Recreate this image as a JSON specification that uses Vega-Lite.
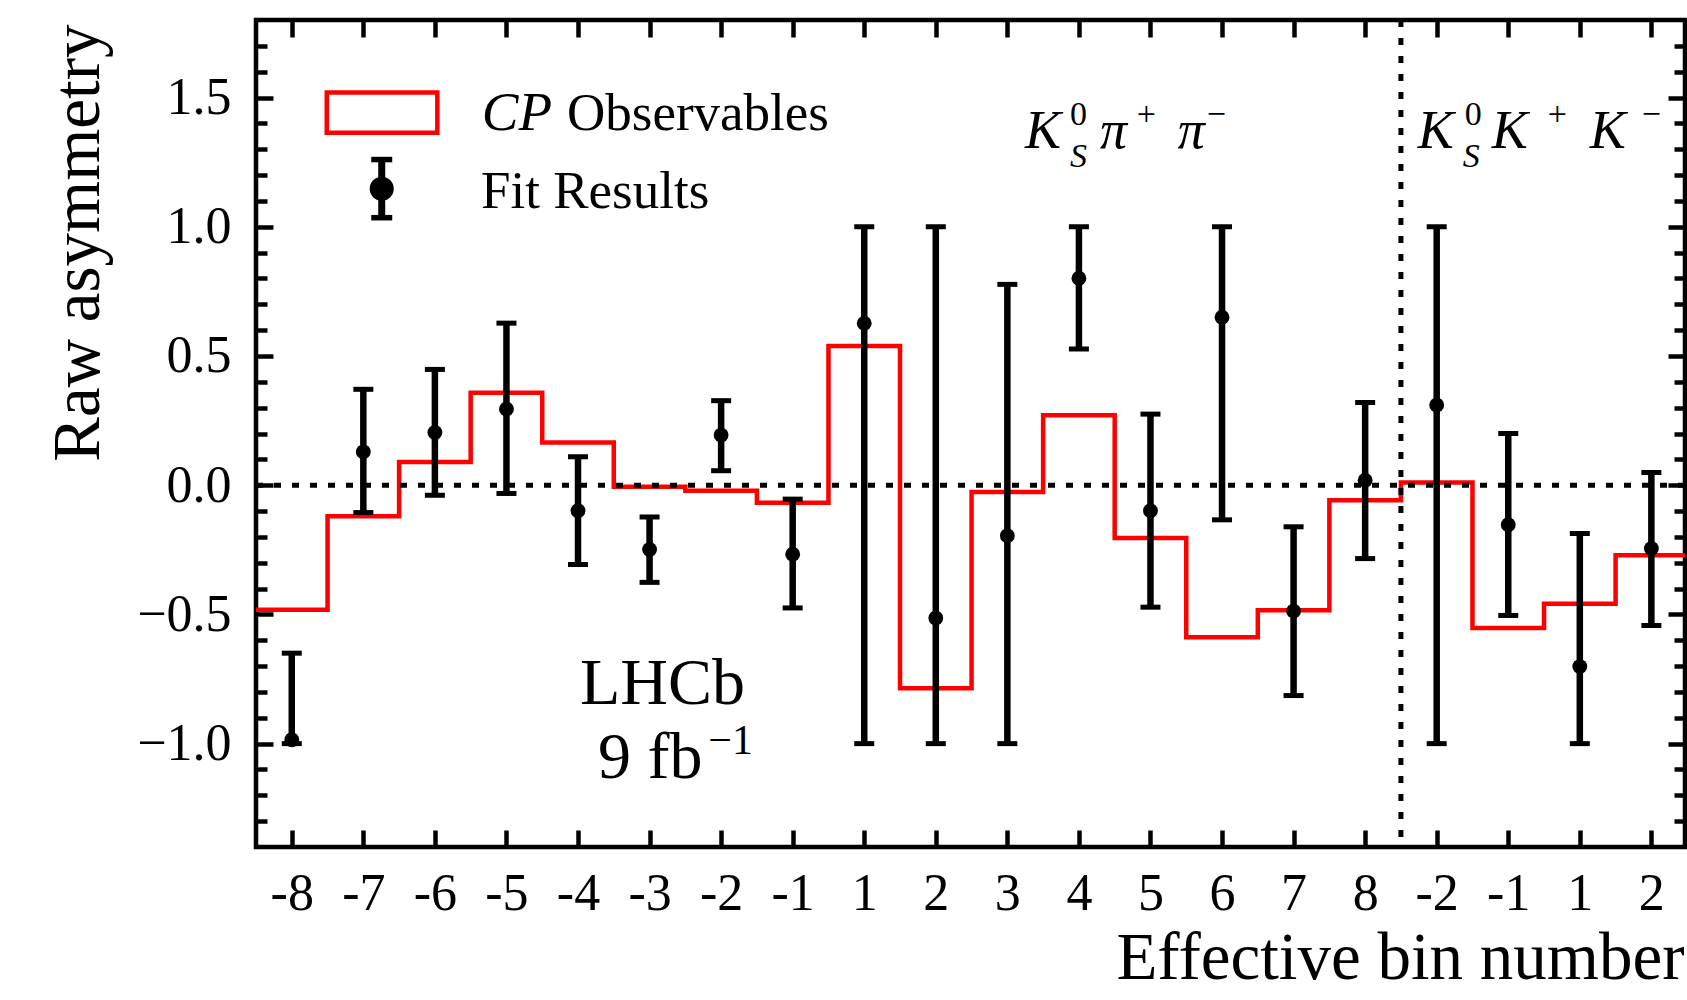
{
  "$schema": "https://vega.github.io/schema/vega-lite/v6.json",
  "width": 1429,
  "height": 827,
  "autosize": {"type": "none"},
  "padding": {"left": 256, "top": 20, "right": 2, "bottom": 153},
  "background": "white",
  "config": {
    "view": {"stroke": "black", "strokeWidth": 4.5},
    "font": "Liberation Serif",
    "axis": {"domain": false, "grid": false, "tickColor": "black", "tickWidth": 4.5, "labelColor": "black", "titleColor": "black", "labelFont": "Liberation Serif", "titleFont": "Liberation Serif", "titleFontWeight": "normal", "labelFlush": false, "labelOverlap": false}
  },
  "datasets": {
    "bins": [
      {"bin": "-8", "mode": "KS pi pi", "pos": 0, "fit": -0.985, "lo": -1.0, "hi": -0.65},
      {"bin": "-7", "mode": "KS pi pi", "pos": 1, "fit": 0.129, "lo": -0.106, "hi": 0.371},
      {"bin": "-6", "mode": "KS pi pi", "pos": 2, "fit": 0.204, "lo": -0.039, "hi": 0.448},
      {"bin": "-5", "mode": "KS pi pi", "pos": 3, "fit": 0.295, "lo": -0.032, "hi": 0.627},
      {"bin": "-4", "mode": "KS pi pi", "pos": 4, "fit": -0.099, "lo": -0.307, "hi": 0.11},
      {"bin": "-3", "mode": "KS pi pi", "pos": 5, "fit": -0.249, "lo": -0.376, "hi": -0.123},
      {"bin": "-2", "mode": "KS pi pi", "pos": 6, "fit": 0.194, "lo": 0.056, "hi": 0.327},
      {"bin": "-1", "mode": "KS pi pi", "pos": 7, "fit": -0.267, "lo": -0.475, "hi": -0.054},
      {"bin": "1", "mode": "KS pi pi", "pos": 8, "fit": 0.627, "lo": -1.0, "hi": 1.0},
      {"bin": "2", "mode": "KS pi pi", "pos": 9, "fit": -0.514, "lo": -1.0, "hi": 1.0},
      {"bin": "3", "mode": "KS pi pi", "pos": 10, "fit": -0.196, "lo": -1.0, "hi": 0.777},
      {"bin": "4", "mode": "KS pi pi", "pos": 11, "fit": 0.801, "lo": 0.527, "hi": 1.0},
      {"bin": "5", "mode": "KS pi pi", "pos": 12, "fit": -0.099, "lo": -0.472, "hi": 0.275},
      {"bin": "6", "mode": "KS pi pi", "pos": 13, "fit": 0.65, "lo": -0.134, "hi": 1.0},
      {"bin": "7", "mode": "KS pi pi", "pos": 14, "fit": -0.487, "lo": -0.814, "hi": -0.161},
      {"bin": "8", "mode": "KS pi pi", "pos": 15, "fit": 0.019, "lo": -0.284, "hi": 0.32},
      {"bin": "-2", "mode": "KS K K", "pos": 16, "fit": 0.31, "lo": -1.0, "hi": 1.0},
      {"bin": "-1", "mode": "KS K K", "pos": 17, "fit": -0.153, "lo": -0.504, "hi": 0.2},
      {"bin": "1", "mode": "KS K K", "pos": 18, "fit": -0.702, "lo": -1.0, "hi": -0.187},
      {"bin": "2", "mode": "KS K K", "pos": 19, "fit": -0.245, "lo": -0.543, "hi": 0.049}
    ],
    "cpSteps": [
      {"edge": -0.5, "cp": -0.482},
      {"edge": 0.5, "cp": -0.12},
      {"edge": 1.5, "cp": 0.09},
      {"edge": 2.5, "cp": 0.358},
      {"edge": 3.5, "cp": 0.165},
      {"edge": 4.5, "cp": -0.006},
      {"edge": 5.5, "cp": -0.022},
      {"edge": 6.5, "cp": -0.068},
      {"edge": 7.5, "cp": 0.539},
      {"edge": 8.5, "cp": -0.786},
      {"edge": 9.5, "cp": -0.026},
      {"edge": 10.5, "cp": 0.271},
      {"edge": 11.5, "cp": -0.204},
      {"edge": 12.5, "cp": -0.588},
      {"edge": 13.5, "cp": -0.484},
      {"edge": 14.5, "cp": -0.058},
      {"edge": 15.5, "cp": 0.01},
      {"edge": 16.5, "cp": -0.553},
      {"edge": 17.5, "cp": -0.459},
      {"edge": 18.5, "cp": -0.271},
      {"edge": 19.5, "cp": -0.271}
    ],
    "keyItalic": [{"text": "CP", "x": 2.654, "y": 1.376}],
    "keyRoman": [
      {"text": "Observables", "x": 3.846, "y": 1.376},
      {"text": "Fit Results", "x": 2.645, "y": 1.073}
    ],
    "decayMain": [
      {"text": "K", "x": 10.245, "y": 1.306},
      {"text": "π", "x": 11.293, "y": 1.306},
      {"text": "π", "x": 12.382, "y": 1.306},
      {"text": "K", "x": 15.735, "y": 1.306},
      {"text": "K", "x": 16.769, "y": 1.306},
      {"text": "K", "x": 18.138, "y": 1.306}
    ],
    "decaySup": [
      {"text": "0", "x": 10.874, "y": 1.393},
      {"text": "+", "x": 11.809, "y": 1.393},
      {"text": "−", "x": 12.787, "y": 1.393},
      {"text": "0", "x": 16.391, "y": 1.393},
      {"text": "+", "x": 17.552, "y": 1.393},
      {"text": "−", "x": 18.864, "y": 1.393}
    ],
    "decaySub": [
      {"text": "S", "x": 10.874, "y": 1.233},
      {"text": "S", "x": 16.363, "y": 1.233}
    ],
    "lhcb": [
      {"text": "LHCb", "x": 4.028, "y": -0.845},
      {"text": "9 fb", "x": 4.28, "y": -1.132}
    ],
    "lumiSup": [{"text": "−1", "x": 5.82, "y": -1.039}]
  },
  "layer": [
    {
      "data": {"name": "cpSteps"},
      "mark": {"type": "line", "interpolate": "step-after", "color": "#ff0000", "strokeWidth": 4.5, "clip": true},
      "encoding": {
        "x": {"field": "edge", "type": "quantitative", "scale": {"domain": [-0.5, 19.47], "nice": false, "zero": false},
          "axis": {"orient": "bottom", "values": [0,1,2,3,4,5,6,7,8,9,10,11,12,13,14,15,16,17,18,19],
            "labelExpr": "['-8','-7','-6','-5','-4','-3','-2','-1','1','2','3','4','5','6','7','8','-2','-1','1','2'][datum.value]",
            "ticks": false, "labelFontSize": 52, "labelPadding": 62, "labelBaseline": "alphabetic",
            "title": "Effective bin number", "titleFontSize": 67, "titleAlign": "right", "titleAnchor": "end",
            "titleX": 1428, "titleY": 131, "titleBaseline": "alphabetic"}},
        "y": {"field": "cp", "type": "quantitative", "scale": {"domain": [-1.4, 1.8], "nice": false, "zero": false},
          "axis": {"orient": "left", "values": [-1, -0.5, 0, 0.5, 1, 1.5], "format": ".1f", "ticks": false,
            "labelFontSize": 52, "labelPadding": 25,
            "title": "Raw asymmetry", "titleFontSize": 67, "titleAngle": 270, "titleAlign": "right",
            "titleBaseline": "alphabetic", "titleX": -158, "titleY": 4}}
      }
    },
    {
      "data": {"values": [{}]},
      "mark": {"type": "rule", "color": "black", "strokeWidth": 5, "strokeDash": [7, 11]},
      "encoding": {
        "y": {"datum": 0, "type": "quantitative", "scale": {"domain": [-1.4, 1.8], "nice": false, "zero": false},
          "axis": {"orient": "right", "values": [-1, -0.5, 0, 0.5, 1, 1.5], "labels": false, "tickSize": -17, "title": null}}
      }
    },
    {
      "data": {"values": [{}]},
      "mark": {"type": "rule", "color": "black", "strokeWidth": 5, "strokeDash": [7, 11]},
      "encoding": {
        "x": {"datum": 15.5, "type": "quantitative", "scale": {"domain": [-0.5, 19.47], "nice": false, "zero": false},
          "axis": {"orient": "top", "values": [0,1,2,3,4,5,6,7,8,9,10,11,12,13,14,15,16,17,18,19], "labels": false, "tickSize": -17, "title": null}}
      }
    },
    {
      "data": {"name": "bins"},
      "mark": {"type": "rule", "color": "black", "strokeWidth": 6.5},
      "encoding": {
        "x": {"field": "pos", "type": "quantitative", "scale": {"domain": [-0.5, 19.47], "nice": false, "zero": false},
          "axis": {"orient": "bottom", "values": [0,1,2,3,4,5,6,7,8,9,10,11,12,13,14,15,16,17,18,19], "labels": false, "tickSize": -17, "title": null}},
        "y": {"field": "lo", "type": "quantitative", "scale": {"domain": [-1.4, 1.8], "nice": false, "zero": false},
          "axis": {"orient": "left", "values": [-1, -0.5, 0, 0.5, 1, 1.5], "labels": false, "tickSize": -17, "title": null}},
        "y2": {"field": "hi"}
      }
    },
    {
      "data": {"name": "bins"},
      "mark": {"type": "tick", "orient": "horizontal", "size": 20, "thickness": 5, "color": "black", "opacity": 1},
      "encoding": {
        "x": {"field": "pos", "type": "quantitative", "axis": null},
        "y": {"field": "lo", "type": "quantitative",
          "axis": {"orient": "left", "values": [-1.3,-1.2,-1.1,-0.9,-0.8,-0.7,-0.6,-0.4,-0.3,-0.2,-0.1,0.1,0.2,0.3,0.4,0.6,0.7,0.8,0.9,1.1,1.2,1.3,1.4,1.6,1.7], "labels": false, "tickSize": -11, "title": null}}
      }
    },
    {
      "data": {"name": "bins"},
      "mark": {"type": "tick", "orient": "horizontal", "size": 20, "thickness": 5, "color": "black", "opacity": 1},
      "encoding": {
        "x": {"field": "pos", "type": "quantitative", "axis": null},
        "y": {"field": "hi", "type": "quantitative",
          "axis": {"orient": "right", "values": [-1.3,-1.2,-1.1,-0.9,-0.8,-0.7,-0.6,-0.4,-0.3,-0.2,-0.1,0.1,0.2,0.3,0.4,0.6,0.7,0.8,0.9,1.1,1.2,1.3,1.4,1.6,1.7], "labels": false, "tickSize": -11, "title": null}}
      }
    },
    {
      "data": {"name": "bins"},
      "mark": {"type": "point", "filled": true, "size": 220, "color": "black", "opacity": 1},
      "encoding": {
        "x": {"field": "pos", "type": "quantitative", "axis": null},
        "y": {"field": "fit", "type": "quantitative", "axis": null}
      }
    },
    {
      "data": {"values": [{}]},
      "mark": {"type": "rect", "fill": "transparent", "stroke": "#ff0000", "strokeWidth": 4.5},
      "encoding": {
        "x": {"datum": 0.489, "type": "quantitative", "axis": null},
        "x2": {"datum": 2.034},
        "y": {"datum": 1.519, "type": "quantitative", "axis": null},
        "y2": {"datum": 1.364}
      }
    },
    {
      "data": {"values": [{}]},
      "mark": {"type": "rule", "color": "black", "strokeWidth": 7},
      "encoding": {
        "x": {"datum": 1.257, "type": "quantitative", "axis": null},
        "y": {"datum": 1.035, "type": "quantitative", "axis": null},
        "y2": {"datum": 1.26}
      }
    },
    {
      "data": {"values": [{}]},
      "mark": {"type": "tick", "orient": "horizontal", "size": 21, "thickness": 5.5, "color": "black", "opacity": 1},
      "encoding": {
        "x": {"datum": 1.257, "type": "quantitative", "axis": null},
        "y": {"datum": 1.26, "type": "quantitative", "axis": null}
      }
    },
    {
      "data": {"values": [{}]},
      "mark": {"type": "tick", "orient": "horizontal", "size": 21, "thickness": 5.5, "color": "black", "opacity": 1},
      "encoding": {
        "x": {"datum": 1.257, "type": "quantitative", "axis": null},
        "y": {"datum": 1.035, "type": "quantitative", "axis": null}
      }
    },
    {
      "data": {"values": [{}]},
      "mark": {"type": "point", "filled": true, "size": 580, "color": "black", "opacity": 1},
      "encoding": {
        "x": {"datum": 1.257, "type": "quantitative", "axis": null},
        "y": {"datum": 1.147, "type": "quantitative", "axis": null}
      }
    },
    {
      "data": {"name": "keyItalic"},
      "mark": {"type": "text", "font": "Liberation Serif", "fontStyle": "italic", "fontSize": 55, "align": "left", "baseline": "alphabetic", "color": "black"},
      "encoding": {
        "x": {"field": "x", "type": "quantitative", "axis": null},
        "y": {"field": "y", "type": "quantitative", "axis": null},
        "text": {"field": "text"}
      }
    },
    {
      "data": {"name": "keyRoman"},
      "mark": {"type": "text", "font": "Liberation Serif", "fontSize": 53, "align": "left", "baseline": "alphabetic", "color": "black"},
      "encoding": {
        "x": {"field": "x", "type": "quantitative", "axis": null},
        "y": {"field": "y", "type": "quantitative", "axis": null},
        "text": {"field": "text"}
      }
    },
    {
      "data": {"name": "decayMain"},
      "mark": {"type": "text", "font": "Liberation Serif", "fontStyle": "italic", "fontSize": 54, "align": "left", "baseline": "alphabetic", "color": "black"},
      "encoding": {
        "x": {"field": "x", "type": "quantitative", "axis": null},
        "y": {"field": "y", "type": "quantitative", "axis": null},
        "text": {"field": "text"}
      }
    },
    {
      "data": {"name": "decaySup"},
      "mark": {"type": "text", "font": "Liberation Serif", "fontSize": 34, "align": "left", "baseline": "alphabetic", "color": "black"},
      "encoding": {
        "x": {"field": "x", "type": "quantitative", "axis": null},
        "y": {"field": "y", "type": "quantitative", "axis": null},
        "text": {"field": "text"}
      }
    },
    {
      "data": {"name": "decaySub"},
      "mark": {"type": "text", "font": "Liberation Serif", "fontStyle": "italic", "fontSize": 34, "align": "left", "baseline": "alphabetic", "color": "black"},
      "encoding": {
        "x": {"field": "x", "type": "quantitative", "axis": null},
        "y": {"field": "y", "type": "quantitative", "axis": null},
        "text": {"field": "text"}
      }
    },
    {
      "data": {"name": "lhcb"},
      "mark": {"type": "text", "font": "Liberation Serif", "fontSize": 66, "align": "left", "baseline": "alphabetic", "color": "black"},
      "encoding": {
        "x": {"field": "x", "type": "quantitative", "axis": null},
        "y": {"field": "y", "type": "quantitative", "axis": null},
        "text": {"field": "text"}
      }
    },
    {
      "data": {"name": "lumiSup"},
      "mark": {"type": "text", "font": "Liberation Serif", "fontSize": 42, "align": "left", "baseline": "alphabetic", "color": "black"},
      "encoding": {
        "x": {"field": "x", "type": "quantitative", "axis": null},
        "y": {"field": "y", "type": "quantitative", "axis": null},
        "text": {"field": "text"}
      }
    }
  ],
  "resolve": {"axis": {"x": "independent", "y": "independent"}}
}
